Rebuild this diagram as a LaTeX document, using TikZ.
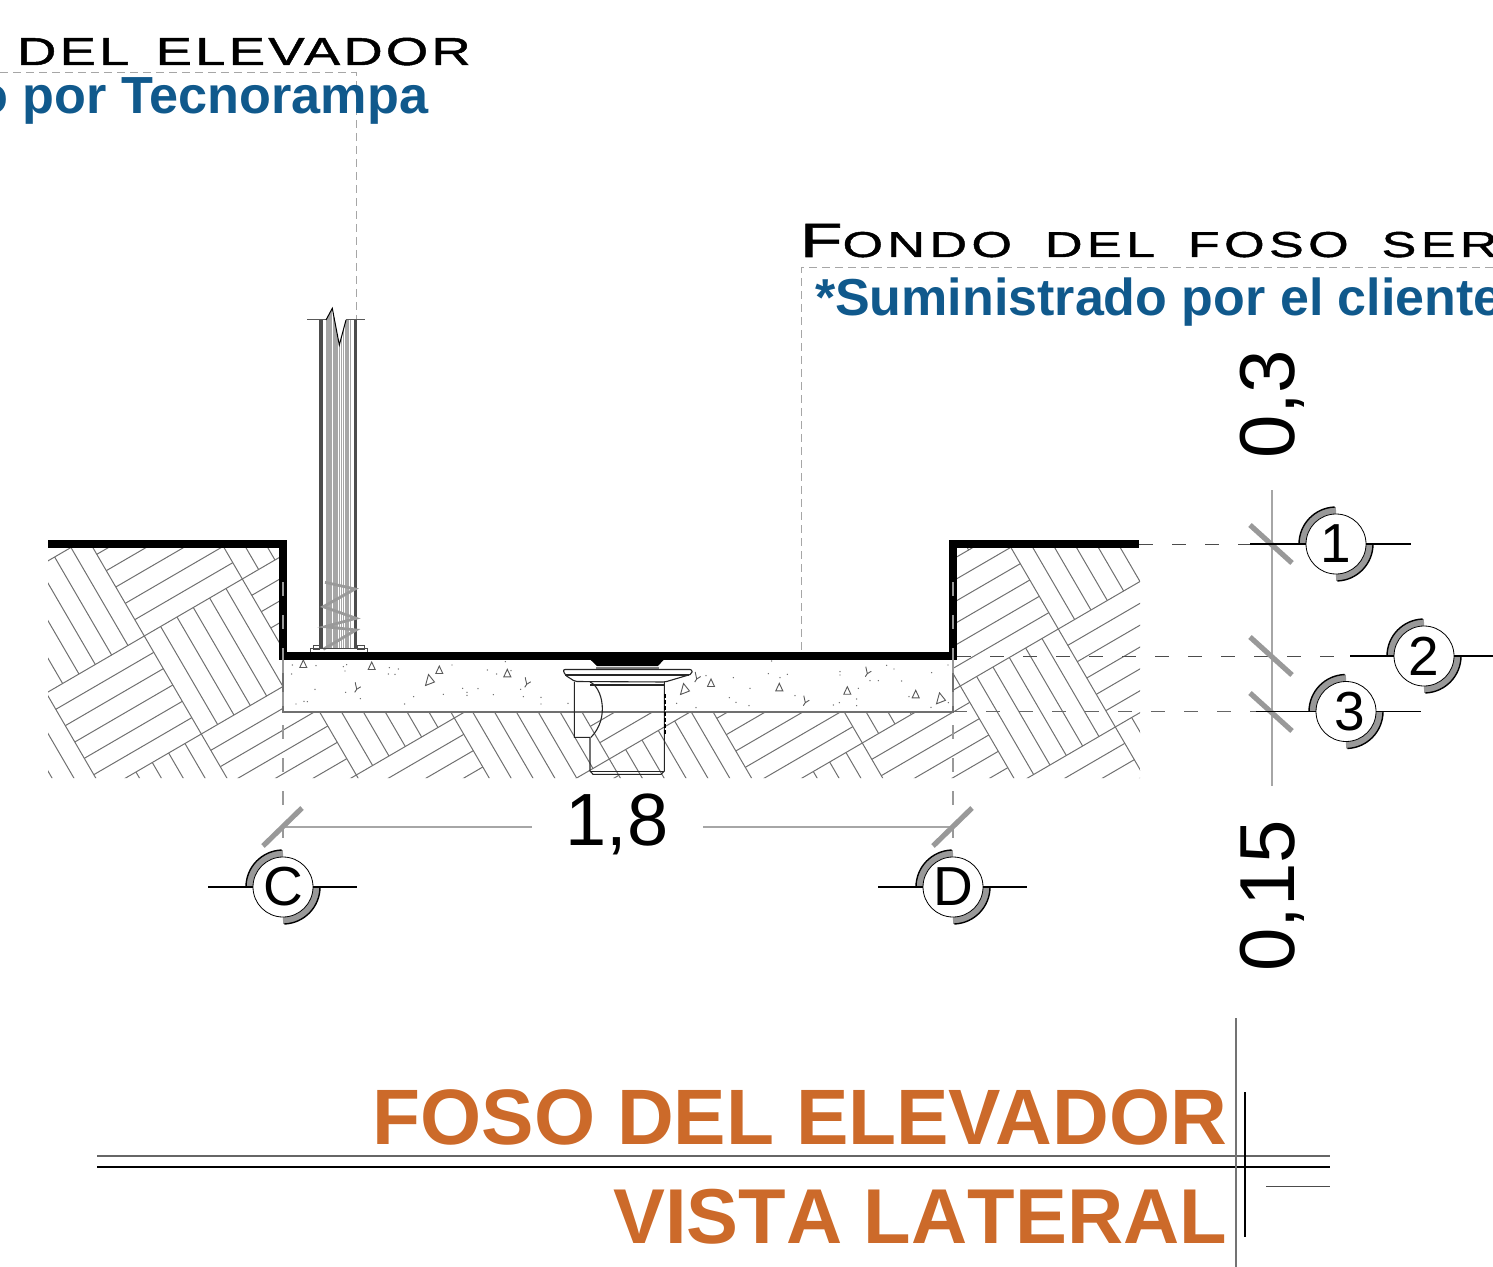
\documentclass[tikz,border=0pt]{standalone}
\usepackage{fontspec}
\setmainfont{Liberation Sans}
\newfontfamily\widefont[FakeStretch=1.4,LetterSpace=8,FakeBold=1.2]{Liberation Sans}
\newfontfamily\widerfont[FakeStretch=1.45,LetterSpace=12,FakeBold=1.2]{Liberation Sans}
\newfontfamily\nokern[Kerning=Off,BoldFont={Liberation Sans Bold}]{Liberation Sans}
\definecolor{bluetxt}{HTML}{10598C}
\definecolor{orangetxt}{HTML}{CC6A2A}
\definecolor{hatchgray}{HTML}{707070}
\definecolor{axisgray}{HTML}{A6A6A6}
\definecolor{midgray}{HTML}{999999}
\tikzset{
  x=0.5pt,y=-0.5pt,
  txt/.style={inner sep=0pt,outer sep=0pt},
  hatchline/.style={hatchgray,line width=0.5pt},
  wallline/.style={black,line width=4pt,line join=miter,line cap=butt},
  leader/.style={axisgray,line width=0.5pt,dash pattern=on 4pt off 2.5pt},
  axisdash/.style={black!70,line width=0.4pt,dash pattern=on 7pt off 9.5pt},
  griddash/.style={midgray,line width=0.8pt,dash pattern=on 7pt off 9.5pt},
  ticks/.style={midgray,line width=2.6pt},
  dimline/.style={black!35,line width=0.6pt},
  bubble/.style={circle,draw=black,fill=white,line width=0.4pt,minimum size=30pt,inner sep=0pt,font=\fontsize{27.5}{28}\selectfont},
  stub/.style={black,line width=0.8pt},
  crescent/.style={midgray,line width=3.5pt},
  crescentedge/.style={black,line width=0.7pt},
  draindraw/.style={black!85,line width=0.55pt},
  aggregate/.style={black!65,line width=0.45pt}
}
\newcommand{\crescents}[2]{%
  \draw[crescent] (#1-33.5,#2) arc[start angle=180,end angle=90,radius=16.75pt];
  \draw[crescent] (#1+33.5,#2) arc[start angle=0,end angle=-90,radius=16.75pt];
  \draw[crescentedge] (#1-37,#2) arc[start angle=180,end angle=92,radius=18.5pt];
  \draw[crescentedge] (#1+37,#2) arc[start angle=0,end angle=-88,radius=18.5pt];
}
\begin{document}
\begin{tikzpicture}
\useasboundingbox (0,0) rectangle (1493,1267);
\clip (0,0) rectangle (1493,1267);

% parquet hatch
\begin{scope}
  \clip (48,545) -- (283,545) -- (283,712) -- (953,712) -- (953,545) -- (1140,545) -- (1140,778) -- (48,778) -- cycle;
  \foreach \i in {-4,...,10}{
    \foreach \j in {-3,...,8}{
      \pgfmathtruncatemacro{\parity}{mod(abs(\i+\j),2)}
      \foreach \k in {0,...,6}{
        \pgfmathsetmacro{\kk}{\k/6}
        \ifnum\parity=0
          \draw[hatchline] ({144.3+(\i+\kk)*98+\j*57},{636-(\i+\kk)*57+\j*98}) -- ({144.3+(\i+\kk)*98+(\j+1)*57},{636-(\i+\kk)*57+(\j+1)*98});
        \else
          \draw[hatchline] ({144.3+\i*98+(\j+\kk)*57},{636-\i*57+(\j+\kk)*98}) -- ({144.3+(\i+1)*98+(\j+\kk)*57},{636-(\i+1)*57+(\j+\kk)*98});
        \fi
      }
    }
  }
\end{scope}

% slab
\fill[white] (283,656) rectangle (953,712);
\draw[hatchgray,line width=0.7pt] (283,656) -- (283,712) -- (953,712) -- (953,656);

% aggregate dots
\foreach \x/\y in {37/45,35/72,108/47,190/50,200/44,195/63,328/53,355/57,325/72,345/73,105/118,197/127,241/146,48/162,72/154,82/155,374/162,401/140,490/133,516/45,548/115,561/127,561/136,594/116,622/60,650/72,693/62,640/134,722/118,730/140,783/142,783/162,864/160,676/35}
  \fill[black!60] ({280+\x/3},{650+\y/3}) circle[radius=0.35pt];
\foreach \x/\y in {335/33,138/77,220/83,325/71,360/83,382/73,270/115,540/65,540/75,630/92,655/92,680/46,702/57,725/93,815/68,864/45,595/115,405/137,208/143,228/157,267/167,108/173,50/160,520/165,538/158,590/147,590/167,747/140,813/172,865/158}
  \fill[black!60] ({660+\x/3},{650+\y/3}) circle[radius=0.35pt];
% aggregate triangles
\foreach \x/\y in {303.3/664,371.7/666,439.3/670,507.3/673.3,711/683,779.3/687.3,847.3/690.7,915.7/694.3}
  \draw[aggregate] (\x-3.5,\y+3.5) -- (\x,\y-4) -- (\x+3.5,\y+3.5) -- cycle;
\foreach \x/\y in {429/680,684/689,940/698.3}
  \draw[aggregate] (\x-3.5,\y+5.5) -- (\x-0.5,\y-5.5) -- (\x+5.5,\y+2) -- cycle;
% aggregate stones
\foreach \x/\y in {356.7/688.3,526.7/683.3,696.7/678,805.3/701.7,867.3/672.7}
  \draw[aggregate] (\x-1.5,\y-6) -- (\x,\y+1) -- (\x+4,\y-1.5) (\x-2,\y+4) -- (\x,\y+1);

% axis dashes
\draw[griddash] (283,560) -- (283,850);
\draw[griddash] (953,560) -- (953,850);

% leaders
\coordinate (lA) at (0,73);
\coordinate (lB) at (356,73);
\coordinate (lC) at (356,320);
\draw[leader] (lA) -- (lB) -- (lC);
\coordinate (lD) at (1493,268);
\coordinate (lE) at (801,268);
\coordinate (lF) at (801,655);
\draw[leader] (lD) -- (lE) -- (lF);

% column
\begin{scope}
  \clip (326,648) -- (326,320) -- (332.3,308.3) -- (339.3,345) -- (346,320) -- (352,320) -- (352,648) -- cycle;
  \foreach \x in {326.5,328,329.5,331,333.5,335,337,339.5,341.5,343.5,346,348,350.5}
    \draw[axisgray,line width=0.7pt] (\x,300) -- (\x,650);
\end{scope}
\draw[black!70,line width=1.7pt] (321,320) -- (321,648);
\draw[black!70,line width=1.7pt] (355.5,320) -- (355.5,648);
\draw[black!65,line width=0.5pt] (307,320) -- (326,320) (346,320) -- (365,320);
\draw[black,line width=0.5pt,line join=miter] (326,320) -- (332.3,308.3) -- (339.3,345) -- (346,320);
\draw[midgray,line width=1.4pt,line join=miter] (325,582.3) -- (355,589) -- (323.3,606.7) -- (356,618.3) -- (325,626.7) -- (356,630) -- (323.3,649.3);
\draw[black!70,line width=0.4pt] (310.7,648.3) rectangle (367.3,652);
\draw[black!70,line width=0.4pt] (313.3,645.3) rectangle (319.3,649.3);
\draw[black!70,line width=0.4pt] (357.3,645.3) rectangle (364,649.3);

% walls
\draw[wallline] (48,544) -- (283,544) -- (283,656) -- (953,656) -- (953,544) -- (1139,544);

% wall-embedded grid dashes
\draw[midgray,line width=0.6pt,dash pattern=on 7pt off 9.5pt] (283,582) -- (283,660);
\draw[midgray,line width=0.6pt,dash pattern=on 7pt off 9.5pt] (953,582) -- (953,660);

% drain
\fill[black] (590.7,660) -- (597,666) -- (658,666) -- (663.5,660) -- cycle;
\fill[black!50] (596,666.5) -- (658.5,666.5) -- (658.5,669) -- (596,669) -- cycle;
\draw[draindraw,rounded corners=1pt] (563,669.5) -- (692,669.5) -- (692,674) -- (665,682) -- (575,681.5) -- (565,675) -- cycle;
\draw[draindraw] (565,675) -- (689,675);
\draw[draindraw] (574.3,681.5) -- (574.3,737.3) -- (590,737.3) -- (590,771) -- (593,774.3) -- (661,774.3) -- (664.3,771) -- (664.3,682);
\draw[draindraw] (590,685) -- (664.3,685);
\draw[draindraw] (590,682) .. controls (602,687) and (610,718) .. (591,737.3);
\draw[black,line width=1pt,dash pattern=on 2pt off 1pt] (664.5,694) -- (664.5,735);
\draw[draindraw] (590,771.5) -- (664,771.5);

% dimension line and ticks
\coordinate (dimC) at (283,827);
\coordinate (dimD) at (953,827);
\coordinate (dimCe) at (532,827);
\coordinate (dimDe) at (703,827);
\draw[dimline] (dimC) -- (dimCe);
\draw[dimline] (dimDe) -- (dimD);
\draw[ticks] (263,846) -- (302,808);
\draw[ticks] (933,846) -- (972,808);

\coordinate (vA) at (1272,490);
\coordinate (vB) at (1272,786);
\draw[axisgray,line width=0.7pt] (vA) -- (vB);

\coordinate (h1s) at (1139,544);
\coordinate (h2s) at (957,656);
\coordinate (h3s) at (953,711.5);
\coordinate (h1e) at (1250,544);
\coordinate (h2e) at (1350,656);
\coordinate (h3e) at (1256,711.5);
\draw[axisdash] (h1s) -- (h1e);
\draw[axisdash] (h2s) -- (h2e);
\draw[axisdash,black!60,line width=0.55pt] (h3s) -- (h3e);

\draw[ticks] (1250,525) -- (1292,563);
\draw[ticks] (1250,637) -- (1292,675);
\draw[ticks] (1250,693) -- (1292,731);

% bubbles
\crescents{1336}{544}
\crescents{1424}{656}
\crescents{1346}{711.5}
\crescents{283}{887}
\crescents{953}{887}
\node[bubble] (b1) at (1336,544) {1};
\node[bubble] (b2) at (1424,656) {2};
\node[bubble] (b3) at (1346,711.5) {\hspace{4pt}3};
\node[bubble] (bC) at (283,887) {C};
\node[bubble] (bD) at (953,887) {D};
\coordinate (s1a) at (1250,544); \coordinate (s1b) at (1411,544);
\coordinate (s2a) at (1350,656); \coordinate (s2b) at (1493,656);
\coordinate (s3a) at (1256,711.5); \coordinate (s3b) at (1421,711.5);
\coordinate (sCa) at (208,887); \coordinate (sCb) at (357,887);
\coordinate (sDa) at (878,887); \coordinate (sDb) at (1027,887);
\draw[stub] (s1a) -- (b1.west) (b1.east) -- (s1b);
\draw[stub] (s2a) -- (b2.west) (b2.east) -- (s2b);
\draw[stub] (s3a) -- (b3.west) (b3.east) -- (s3b);
\draw[stub] (sCa) -- (bC.west) (bC.east) -- (sCb);
\draw[stub] (sDa) -- (bD.west) (bD.east) -- (sDb);

% dimensions
\node[txt,font=\fontsize{37}{40}\selectfont] (dim18) at (617,824) {1,8};
\node[txt,font=\fontsize{39}{42}\selectfont,rotate=90,anchor=base] (dim03) at (1294,404) {0,3};
\node[txt,font=\fontsize{39}{42}\selectfont,rotate=90,anchor=base] (dim015) at (1294,896) {0,15};

% notes
\node[txt,anchor=base west,font=\widefont\fontsize{19.5}{22}\selectfont] (n1) at (17,65) {DEL\hspace{4pt} ELEVADOR};
\node[txt,anchor=base east,font=\bfseries\fontsize{26.1}{28}\selectfont,text=bluetxt] (n2) at (428,114) {o por Tecnorampa};
\node[txt,anchor=base west] (n3) at (800,257) {\fontsize{24}{26}\widerfont F\fontsize{18}{20}\selectfont ONDO\hspace{7pt} DEL\hspace{7pt} FOSO\hspace{7pt} SER};
\node[txt,anchor=base west,font=\bfseries\fontsize{26}{28}\selectfont,text=bluetxt] (n4) at (815,316) {*Suministrado por el cliente};

% title
\node[txt,anchor=base east,font=\bfseries\fontsize{39.3}{42}\selectfont,text=orangetxt] (t1) at (1227,1144) {FOSO DEL ELEVADOR};
\node[txt,anchor=base east,font=\nokern\bfseries\fontsize{38.9}{42}\selectfont,text=orangetxt] (t2) at (1227,1243) {VISTA LATERAL};
\coordinate (r1a) at (97,1156); \coordinate (r1b) at (1330,1156);
\coordinate (r2a) at (97,1167); \coordinate (r2b) at (1330,1167);
\coordinate (r3a) at (1266,1186); \coordinate (r3b) at (1330,1186);
\coordinate (r4a) at (1236,1018); \coordinate (r4b) at (1236,1267);
\coordinate (r5a) at (1245,1092); \coordinate (r5b) at (1245,1237);
\draw[black!60,line width=0.6pt] (r1a) -- (r1b);
\draw[black,line width=1.1pt] (r2a) -- (r2b);
\draw[black!70,line width=0.5pt] (r3a) -- (r3b);
\draw[black!55,line width=0.6pt] (r4a) -- (r4b);
\draw[black,line width=1.1pt] (r5a) -- (r5b);
\end{tikzpicture}
\end{document}
